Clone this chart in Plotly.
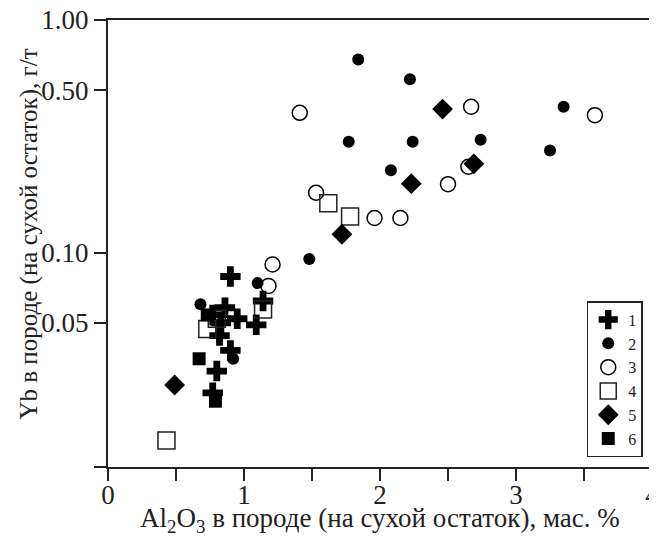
import plotly.graph_objects as go

# Series data: Al2O3 (wt.%) and Yb (g/t)
x1 = [0.90, 1.14, 1.09, 0.86, 0.95, 0.83, 0.77, 0.82, 0.90, 0.80, 0.77]
y1 = [0.079, 0.062, 0.049, 0.058, 0.052, 0.050, 0.054, 0.044, 0.038, 0.031, 0.025]

x2 = [1.84, 2.22, 3.35, 1.77, 2.24, 2.74, 3.25, 2.08, 1.48, 1.10, 0.68, 0.92]
y2 = [0.676, 0.556, 0.424, 0.300, 0.300, 0.306, 0.275, 0.226, 0.094, 0.074, 0.060, 0.035]

x3 = [1.41, 2.67, 3.58, 2.65, 2.50, 1.53, 1.96, 2.15, 1.21, 1.18]
y3 = [0.399, 0.424, 0.390, 0.234, 0.197, 0.181, 0.141, 0.141, 0.089, 0.072]

x4 = [1.62, 1.78, 1.14, 0.73, 0.80, 0.43]
y4 = [0.163, 0.143, 0.057, 0.047, 0.052, 0.0156]

x5 = [2.46, 2.69, 2.23, 1.72, 0.49]
y5 = [0.414, 0.241, 0.198, 0.120, 0.027]

x6 = [0.67, 0.79, 0.73]
y6 = [0.035, 0.023, 0.054]

labels = ["1", "2", "3", "4", "5", "6"]
x_ticks = [0, 0.5, 1, 1.5, 2, 2.5, 3, 3.5, 4]
x_ticktext = ["0", "", "1", "", "2", "", "3", "", "4"]
y_ticks = [0.012, 0.05, 0.1, 0.5, 1.0]
y_ticktext = ["", "0.05", "0.10", "0.50", "1.00"]
x_title = "Al<sub>2</sub>O<sub>3</sub> в породе (на сухой остаток), мас. %"
y_title = "Yb в породе (на сухой остаток), г/т"

FONT = "Liberation Serif, Times New Roman, Times, serif"

styles = [
    dict(symbol="cross", size=17, color="black"),
    dict(symbol="circle", size=12, color="black"),
    dict(symbol="circle-open", size=15, color="black", line=dict(width=1.5)),
    dict(symbol="square-open", size=17, color="#222", line=dict(width=1.5)),
    dict(symbol="diamond", size=16, color="black"),
    dict(symbol="square", size=13, color="black"),
]

fig = go.Figure()
data = [(x1, y1), (x2, y2), (x3, y3), (x4, y4), (x5, y5), (x6, y6)]
for i, (xs, ys) in enumerate(data):
    fig.add_trace(go.Scatter(
        x=xs, y=ys, mode="markers", name=labels[i],
        marker=styles[i], showlegend=True,
    ))

fig.update_layout(
    width=649, height=535,
    margin=dict(l=100, r=5, t=12, b=76),
    plot_bgcolor="white", paper_bgcolor="white",
    font=dict(family=FONT, size=27, color="#222"),
    legend=dict(
        x=0.983, y=0.022, xanchor="right", yanchor="bottom",
        bordercolor="#222", borderwidth=1.5, bgcolor="white",
        font=dict(family=FONT, size=16, color="#222"),
        itemwidth=30, tracegroupgap=0,
    ),
    annotations=[
        dict(text=x_title, xref="paper", yref="paper", x=0.5, y=0,
             xanchor="center", yanchor="middle", yshift=-53, showarrow=False,
             font=dict(family=FONT, size=27, color="#222")),
        dict(text=y_title, xref="paper", yref="paper", x=0, y=0.5,
             xanchor="center", yanchor="middle", xshift=-80, yshift=9,
             textangle=-90, showarrow=False,
             font=dict(family=FONT, size=25, color="#222")),
    ],
)
fig.update_xaxes(
    range=[0, 4], tickvals=x_ticks, ticktext=x_ticktext,
    ticks="outside", ticklen=12, tickwidth=1.5, tickcolor="#222",
    showline=True, linewidth=2, linecolor="#222", mirror=True,
    showgrid=False, zeroline=False, automargin=False,
    ticklabeloverflow="allow", ticklabelstandoff=-9,
    tickfont=dict(family=FONT, size=27),
)
fig.update_yaxes(
    type="log", range=[-1.921, 0], tickvals=y_ticks, ticktext=y_ticktext,
    ticks="outside", ticklen=12, tickwidth=1.5, tickcolor="#222",
    showline=True, linewidth=2, linecolor="#222", mirror=True,
    showgrid=False, zeroline=False, automargin=False,
    ticklabeloverflow="allow",
    tickfont=dict(family=FONT, size=27),
)

fig.write_html("out.html")
